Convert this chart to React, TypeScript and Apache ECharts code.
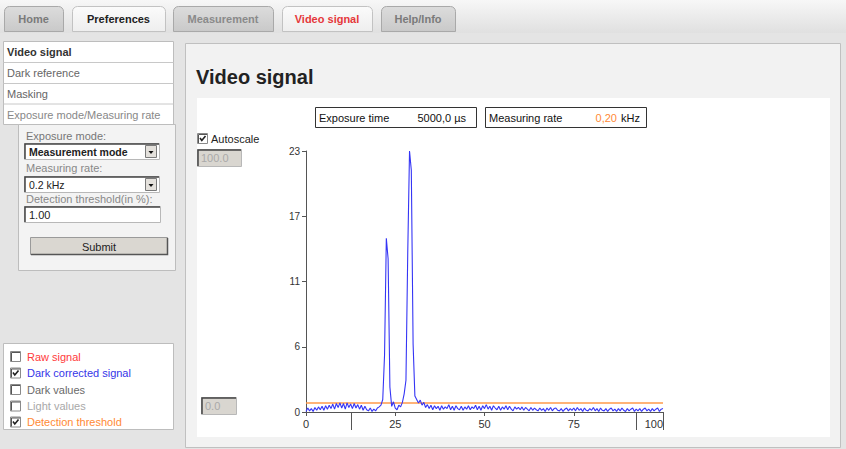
import React, { useEffect, useRef } from "react";
import * as echarts from "echarts";

// ---- data ----
const xStep = 0.5; // sampling grid of the signal (0 .. 100)
const darkCorrectedSignal: number[] = [
  0.05, 0.35, 0.1, 0.3, 0.05, 0.4, 0.15, 0.45, 0.2, 0.5,
  0.15, 0.55, 0.25, 0.6, 0.3, 0.7, 0.25, 0.75, 0.4, 0.8,
  0.35, 0.75, 0.25, 0.8, 0.4, 0.7, 0.3, 0.75, 0.35, 0.65,
  0.25, 0.6, 0.15, 0.5, 0.2, 0.1, 0.35, 0.05, 0.25, 0.1,
  0.35, 0.45, 0.6, 1.1, 5.0, 15.3, 13.5, 2.2, 0.5, 0.9,
  0.35, 0.2, 0.6, 0.45, 0.85, 1.6, 2.8, 14, 23, 21.3,
  6, 1.4, 1.1, 0.8, 1.05, 0.6, 0.85, 0.4, 0.65, 0.3,
  0.6, 0.2, 0.55, 0.3, 0.5, 0.15, 0.55, 0.25, 0.45, 0.3,
  0.65, 0.2, 0.5, 0.15, 0.55, 0.3, 0.2, 0.5, 0.15, 0.45,
  0.25, 0.55, 0.2, 0.45, 0.3, 0.6, 0.2, 0.5, 0.15, 0.55,
  0.3, 0.65, 0.25, 0.5, 0.15, 0.55, 0.35, 0.2, 0.5, 0.15,
  0.45, 0.25, 0.55, 0.2, 0.5, 0.25, 0.1, 0.45, 0.25, 0.4,
  0.2, 0.45, 0.15, 0.4, 0.25, 0.1, 0.4, 0.15, 0.35, 0.2,
  0.1, 0.35, 0.15, 0.3, 0.05, 0.35, 0.15, 0.4, 0.1, 0.3,
  0.35, 0.15, 0.1, 0.3, 0.05, 0.25, 0.35, 0.1, 0.3, 0.15,
  0.35, 0.1, 0.4, 0.15, 0.3, 0.05, 0.35, 0.15, 0.1, 0.3,
  0.15, 0.4, 0.1, 0.3, 0.05, 0.35, 0.15, 0.1, 0.3, 0.05,
  0.25, 0.35, 0.1, 0.25, 0.05, 0.3, 0.1, 0.35, 0.15, 0.05,
  0.3, 0.1, 0.25, 0.35, 0.05, 0.25, 0.1, 0.3, 0.05, 0.25,
  0.35, 0.1, 0.25, 0.05, 0.3, 0.1, 0.25, 0.35, 0.05, 0.25,
  0.3,
];
const detectionThreshold = 0.8;
const xRange = [0, 100];
const yMax = 23;
const yInterval = 5.75;
const yTickLabels = ["0", "6", "11", "17", "23"];
const xLongTicks = [12.6, 92.4, 100];

const tabs = ["Home", "Preferences", "Measurement", "Video signal", "Help/Info"];
const menuItems = ["Video signal", "Dark reference", "Masking", "Exposure mode/Measuring rate"];
const legendItems = ["Raw signal", "Dark corrected signal", "Dark values", "Light values", "Detection threshold"];
const legendChecked = [false, true, false, false, true];

const FONT = "'Liberation Sans', Arial, sans-serif";

function txt(x: number, y: number, text: string, fill: string, size = 11, weight = "normal", align = "left") {
  return {
    type: "text",
    x,
    y,
    z: 1,
    style: {
      text,
      fill,
      font: `${weight} ${size}px ${FONT}`,
      align,
      textAlign: align,
      verticalAlign: "middle",
      textVerticalAlign: "middle",
    },
  };
}
function rect(x: number, y: number, w: number, h: number, fill: any, stroke?: string, r?: any, lw = 1) {
  return {
    type: "rect",
    z: 0,
    shape: { x, y, width: w, height: h, r: r || 0 },
    style: { fill, stroke: stroke || null, lineWidth: lw },
  };
}
function line(x1: number, y1: number, x2: number, y2: number, stroke: string, lw = 1) {
  return { type: "line", z: 1, shape: { x1, y1, x2, y2 }, style: { stroke, lineWidth: lw } };
}
function checkbox(x: number, y: number, checked: boolean) {
  const els: any[] = [
    rect(x + 0.5, y + 0.5, 10, 10, "#ffffff", "#8a8a8a"),
    { type: "polyline", z: 1, shape: { points: [[x + 1.5, y + 10], [x + 1.5, y + 1.5], [x + 10, y + 1.5]] }, style: { stroke: "#555", lineWidth: 1, fill: null } },
  ];
  if (checked) {
    els.push({
      type: "polyline",
      z: 1,
      shape: { points: [[x + 3, y + 5], [x + 4.8, y + 7.5], [x + 8.5, y + 3]] },
      style: { stroke: "#222", lineWidth: 1.6, fill: null },
    });
  }
  return els;
}
function inset(x: number, y: number, w: number, h: number, fill: string) {
  return [
    rect(x + 0.5, y + 0.5, w, h, fill, "#b8b8b8"),
    { type: "polyline", z: 1, shape: { points: [[x + 1, y + h], [x + 1, y + 1], [x + w, y + 1]] }, style: { stroke: "#444", lineWidth: 1.5, fill: null } },
  ];
}
function select(x: number, y: number, w: number, h: number, label: string, bold: boolean) {
  const bx = x + w - 14;
  return [
    ...inset(x, y, w, h, "#ffffff"),
    rect(bx + 0.5, y + 2.5, 11, h - 4, "#e4e1dc", "#7a7a7a"),
    { type: "polygon", z: 1, shape: { points: [[bx + 3.5, y + h / 2], [bx + 8.5, y + h / 2], [bx + 6, y + h / 2 + 3]] }, style: { fill: "#111" } },
    txt(x + 5, y + h / 2 + 1, label, "#222", bold ? 10.5 : 10.5, bold ? "bold" : "normal"),
  ];
}

function buildGraphics() {
  const g: any[] = [];
  g.push(rect(0, 0, 846, 449, "#e4e4e4"));
  g.push(rect(0, 0, 846, 33, { type: "linear", x: 0, y: 0, x2: 0, y2: 1, colorStops: [{ offset: 0, color: "#f7f7f7" }, { offset: 1, color: "#e0e0e0" }] }));
  // tabs
  const tabX = [4, 72, 173, 282, 381];
  const tabW = [59, 93, 100, 90, 74];
  const tabActive = [false, true, false, true, false];
  const tabColor = ["#7a7a7a", "#222222", "#8a8a8a", "#e5383b", "#7a7a7a"];
  tabs.forEach((t, i) => {
    const fill = tabActive[i]
      ? { type: "linear", x: 0, y: 0, x2: 0, y2: 1, colorStops: [{ offset: 0, color: "#fbfbfb" }, { offset: 1, color: "#eeeeee" }] }
      : { type: "linear", x: 0, y: 0, x2: 0, y2: 1, colorStops: [{ offset: 0, color: "#dcdcdc" }, { offset: 1, color: "#c9c9c9" }] };
    g.push(rect(tabX[i] + 0.5, 6.5, tabW[i], 25, fill, tabActive[i] ? "#c2c2c2" : "#a9a9a9", [5, 5, 0, 0]));
    g.push(txt(tabX[i] + tabW[i] / 2, 18.5, t, tabColor[i], 11, "bold", "center"));
  });
  // left menu
  g.push(rect(3.5, 41.5, 170, 83, "#ffffff", "#bdbdbd"));
  const rowY = [41.5, 62.5, 83.5, 104];
  [62.5, 83.5, 104].forEach((y) => g.push(line(3.5, y, 173.5, y, "#c8c8c8")));
  const menuColor = ["#333", "#666", "#666", "#888"];
  menuItems.forEach((m, i) => {
    g.push(txt(7, rowY[i] + 10.5, m, menuColor[i], 11, i === 0 ? "bold" : "normal"));
  });
  // form box
  g.push(rect(18.5, 124.5, 157, 146, "#f3f3f3", "#bdbdbd"));
  g.push(txt(26, 136, "Exposure mode:", "#777", 11));
  g.push(...select(24, 143, 135, 16, "Measurement mode", true));
  g.push(txt(26, 168, "Measuring rate:", "#888", 11));
  g.push(...select(24, 176, 135, 16, "0.2 kHz", false));
  g.push(txt(26, 199, "Detection threshold(in %):", "#888", 11));
  g.push(...inset(24, 206, 136, 16, "#ffffff"));
  g.push(txt(29, 214.5, "1.00", "#222", 11));
  g.push(rect(30.5, 237.5, 137, 17, "#dad7d1", "#9a9a9a"));
  g.push({ type: "polyline", z: 1, shape: { points: [[31, 254.5], [167.5, 254.5], [167.5, 238]] }, style: { stroke: "#555", lineWidth: 1.5, fill: null } });
  g.push(txt(99, 246.5, "Submit", "#222", 11, "normal", "center"));
  // legend box
  g.push(rect(3.5, 343.5, 170, 86, "#ffffff", "#bdbdbd"));
  const legColor = ["#ff3b3b", "#3535e8", "#6a6a6a", "#a8a8a8", "#ff8a35"];
  const legY = [356.5, 373, 389.5, 406, 422];
  legendItems.forEach((l, i) => {
    g.push(...checkbox(10, legY[i] - 5.5, legendChecked[i]));
    g.push(txt(27, legY[i], l, legColor[i], 11));
  });
  // main panel
  g.push(rect(185.5, 43.5, 655, 404, "#f2f2f2", "#c0c0c0"));
  g.push(txt(196, 77, "Video signal", "#222", 20, "bold"));
  g.push(rect(197, 98, 633, 339, "#ffffff"));
  // info boxes
  g.push(rect(315.5, 107.5, 161, 20, "#ffffff", "#333"));
  g.push(txt(319, 117.5, "Exposure time", "#111", 11));
  g.push(txt(466, 117.5, "5000,0 µs", "#111", 11, "normal", "right"));
  g.push(rect(485.5, 107.5, 161, 20, "#ffffff", "#333"));
  g.push(txt(489, 117.5, "Measuring rate", "#111", 11));
  g.push(txt(617, 117.5, "0,20", "#ff8a35", 11, "normal", "right"));
  g.push(txt(621, 117.5, "kHz", "#111", 11));
  // autoscale
  g.push(...checkbox(197, 133, true));
  g.push(txt(211, 138.5, "Autoscale", "#222", 11));
  g.push(...inset(197, 149, 44, 17, "#d9d6d0"));
  g.push(txt(201, 158, "100.0", "#a9a9a9", 11));
  g.push(...inset(201, 397, 35, 17, "#d9d6d0"));
  g.push(txt(205, 406, "0.0", "#a9a9a9", 11));
  return g;
}

export default function App() {
  const ref = useRef<HTMLDivElement>(null);
  useEffect(() => {
    if (!ref.current) return;
    const chart = echarts.init(ref.current, undefined, { renderer: "svg" });
    const signalData = darkCorrectedSignal.map((v, i) => [i * xStep, v]);
    const thresholdData = [
      [xRange[0], detectionThreshold],
      [xRange[1], detectionThreshold],
    ];
    chart.setOption({
      animation: false,
      backgroundColor: "#e4e4e4",
      textStyle: { fontFamily: FONT },
      graphic: { elements: buildGraphics() },
      grid: { left: 306, right: 183, top: 151, bottom: 37, containLabel: false },
      xAxis: [
        {
          type: "value",
          min: xRange[0],
          max: xRange[1],
          interval: 25,
          z: 5,
          splitLine: { show: false },
          axisLine: { show: true, lineStyle: { color: "#555", width: 1 } },
          axisTick: { show: true, length: 4, lineStyle: { color: "#555" } },
          axisLabel: { color: "#333", fontSize: 11, margin: 6, alignMaxLabel: "right", fontFamily: FONT },
        },
        {
          type: "value",
          min: xRange[0],
          max: xRange[1],
          position: "bottom",
          z: 5,
          splitLine: { show: false },
          axisLine: { show: false },
          axisLabel: { show: false },
          axisTick: { show: true, length: 18, customValues: xLongTicks, lineStyle: { color: "#555" } },
        },
      ],
      yAxis: {
        type: "value",
        min: 0,
        max: yMax,
        interval: yInterval,
        z: 5,
        splitLine: { show: false },
        axisLine: { show: true, lineStyle: { color: "#555", width: 1 } },
        axisTick: { show: true, length: 4, lineStyle: { color: "#555" } },
        axisLabel: {
          color: "#333",
          fontSize: 10,
          margin: 6,
          fontFamily: FONT,
          formatter: (v: number) => yTickLabels[Math.round(v / yInterval)] ?? "",
        },
      },
      series: [
        {
          name: "Detection threshold",
          type: "line",
          z: 6,
          data: thresholdData,
          symbol: "none",
          lineStyle: { color: "#ff9a4a", width: 1.5 },
        },
        {
          name: "Dark corrected signal",
          type: "line",
          z: 7,
          data: signalData,
          symbol: "none",
          lineStyle: { color: "#3535f5", width: 1.1 },
        },
      ],
    });
    return () => chart.dispose();
  }, []);
  return (
    <div
      ref={ref}
      style={{ position: "fixed", left: 0, top: 0, width: 846, height: 449 }}
    />
  );
}
